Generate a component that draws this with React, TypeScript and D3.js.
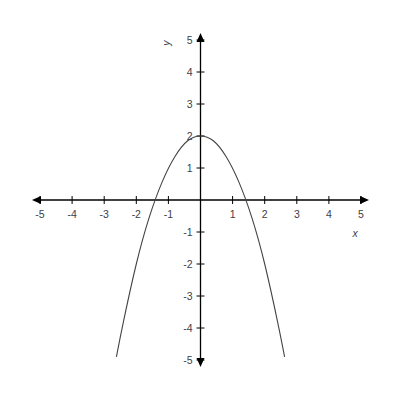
import React from 'react';
import * as d3 from 'd3';

// points
const curveX = [-2.62, -2.4, -2, -1.6, -1.2, -0.8, -0.4, 0, 0.4, 0.8, 1.2, 1.6, 2, 2.4, 2.62];
const curveY = [-4.9, -3.8, -2, -0.55, 0.55, 1.35, 1.85, 2, 1.85, 1.35, 0.55, -0.55, -2, -3.8, -4.9];

const xTicks = [-5, -4, -3, -2, -1, 1, 2, 3, 4, 5];
const yTicks = [-5, -4, -3, -2, -1, 1, 2, 3, 4, 5];

const App = () => {
  const x = d3.scaleLinear().domain([-5, 5]).range([40, 361]);
  const y = d3.scaleLinear().domain([-5, 5]).range([360, 40]);

  const pts = curveX.map((v, i) => [v, curveY[i]] as [number, number]);
  const line = d3.line<[number, number]>()
    .x(d => x(d[0]))
    .y(d => y(d[1]))
    .curve(d3.curveNatural);

  const x0 = x(0);
  const y0 = y(0);
  const lab = { fontFamily: 'Arial, "Liberation Sans", sans-serif', fontSize: 10.5, fill: '#404048' };

  return (
    <svg width={400} height={400} style={{ position: 'absolute', left: 0, top: 0 }}>
      <rect width={400} height={400} fill="#fff" />
      {/* x axis */}
      <line x1={x(-5)} x2={x(5)} y1={y0} y2={y0} stroke="#000" strokeWidth={1.3} />
      <path d={`M${x(-5) - 8},${y0} L${x(-5) + 1},${y0 - 4} L${x(-5) + 1},${y0 + 4} Z`} fill="#000" />
      <path d={`M${x(5) + 8},${y0} L${x(5) - 1},${y0 - 4} L${x(5) - 1},${y0 + 4} Z`} fill="#000" />
      {/* y axis */}
      <line x1={x0} x2={x0} y1={y(5)} y2={y(-5)} stroke="#000" strokeWidth={1.3} />
      <path d={`M${x0},${y(5) - 7} L${x0 - 4},${y(5) + 2} L${x0 + 4},${y(5) + 2} Z`} fill="#000" />
      <path d={`M${x0},${y(-5) + 7} L${x0 - 4},${y(-5) - 2} L${x0 + 4},${y(-5) - 2} Z`} fill="#000" />

      {xTicks.map(t => (
        <g key={'x' + t}>
          <line x1={x(t)} x2={x(t)} y1={y0 - 4} y2={y0 + 4} stroke="#000" strokeWidth={1} />
          <text x={x(t)} y={y0 + 18} textAnchor="middle" {...lab}>{t}</text>
        </g>
      ))}
      {yTicks.map(t => (
        <g key={'y' + t}>
          <line x1={x0 - 4} x2={x0 + 4} y1={y(t)} y2={y(t)} stroke="#000" strokeWidth={1} />
          <text x={x0 - 8} y={y(t) + 4} textAnchor="end" {...lab}>{t}</text>
        </g>
      ))}

      <text x={355} y={237} textAnchor="middle" fontStyle="italic" {...lab}>x</text>
      <text transform={`translate(170,43) rotate(-90)`} textAnchor="middle" fontStyle="italic" {...lab}>y</text>

      <path d={line(pts) ?? ''} fill="none" stroke="#444" strokeWidth={1.1} />
    </svg>
  );
};

export default App;
